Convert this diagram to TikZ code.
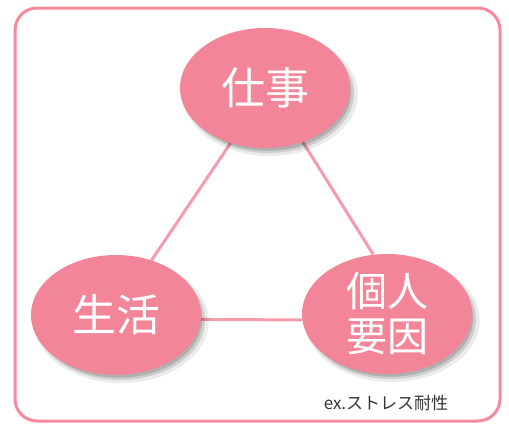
\documentclass[tikz,border=0pt]{standalone}
\usepackage{fontspec}
\newfontfamily\cjk{Noto Sans CJK JP}
\usetikzlibrary{shapes.geometric,shadows,backgrounds}
\definecolor{rosefill}{HTML}{F28698}
\definecolor{roseline}{HTML}{F49CAC}
\definecolor{frameline}{HTML}{F48A9C}
\definecolor{notegray}{HTML}{333333}
\tikzset{
  bubble/.style={ellipse, fill=rosefill, draw=none, minimum width=170pt, minimum height=120pt,
    inner sep=0pt, text=white, font=\cjk\fontsize{44}{46}\selectfont, align=center,
    drop shadow={shadow xshift=5pt, shadow yshift=-6pt, shadow scale=1.03, opacity=0.08, fill=black},
    drop shadow={shadow xshift=4pt, shadow yshift=-5pt, opacity=0.12, fill=black},
    drop shadow={shadow xshift=3pt, shadow yshift=-4pt, shadow scale=0.98, opacity=0.15, fill=black}},
  link/.style={draw=roseline, line width=3pt},
  frame/.style={draw=frameline, line width=3pt, rounded corners=22pt, fill=white},
  note/.style={text=notegray, font=\cjk\fontsize{17}{19}\selectfont, inner sep=0pt}
}
\begin{document}
\begin{tikzpicture}[x=1pt,y=-1pt]
\useasboundingbox (0,0) rectangle (509,426);
\node[bubble] (work) at (265,88) {仕事};
\node[bubble] (life) at (116,315) {生活};
\node[bubble, font=\cjk\fontsize{41}{45}\selectfont] (self) at (387,314) {個人\\要因};
\node[note, anchor=base] (ex) at (386,409) {ex.ストレス耐性};
\begin{scope}[on background layer]
\draw[frame] (15,8) rectangle (500,421);
\draw[link] (work.-122.5) -- (life.57.7);
\draw[link] (work.-55.6) -- (self.103.3);
\draw[link] (life.-3.3) -- (self.184);
\end{scope}
\end{tikzpicture}
\end{document}
